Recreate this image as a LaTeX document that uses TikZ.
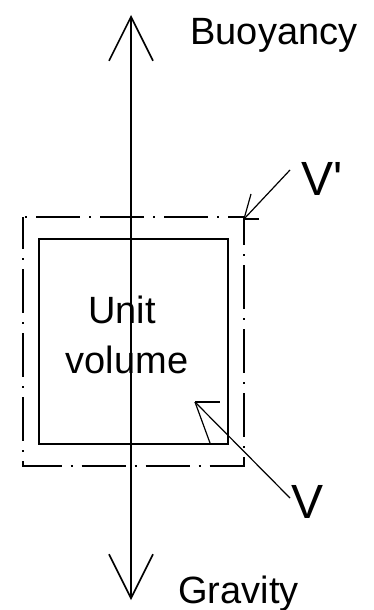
\documentclass[tikz,border=0pt]{standalone}
\usepackage{fontspec}
\setmainfont{Liberation Sans}
\usetikzlibrary{arrows.meta}
\begin{document}
\begin{tikzpicture}[x=0.5pt,y=-0.5pt,
  lbl/.style={inner sep=0pt, font=\fontsize{19}{25}\selectfont},
  biglbl/.style={inner sep=0pt, font=\fontsize{24}{28}\selectfont},
  solidbox/.style={line width=1pt},
  dashbox/.style={line width=1pt, dash pattern=on 22pt off 4.5pt on 1pt off 4.5pt, dash phase=6pt},
  axisline/.style={line width=0.8pt, {Straight Barb[length=22pt,width=22pt]}-{Straight Barb[length=22pt,width=22pt]}},
  pointer/.style={line width=0.6pt}]
\useasboundingbox (0,0) rectangle (374,610);
% boxes
\draw[dashbox] (22.5,217) rectangle (244,466);
\draw[solidbox] (39,239) rectangle (228,444);
% axis
\coordinate (top) at (131,15);
\coordinate (bot) at (131,600);
\draw[axisline] (bot) -- (top);
% labels
\node[lbl, anchor=base west] (buoy) at (190,45) {Buoyancy};
\node[lbl, anchor=base west] (grav) at (178,603) {Gravity};
\node[lbl, anchor=base] (unit) at (122,323) {Unit};
\node[lbl, anchor=base] (vol) at (127,373) {volume};
\node[biglbl, anchor=base west] (vp) at (301,195) {V\textquotesingle};
\node[biglbl, anchor=base west] (v) at (291,518) {V};
% V' pointer
\coordinate (vptail) at (290,170);
\coordinate (vptip) at (244,219);
\draw[pointer] (vptail) -- (vptip);
\draw[pointer] (vptip) -- ++(15,0);
\draw[pointer] (vptip) -- ++(7,-25);
% V pointer
\coordinate (vtail) at (290,498);
\coordinate (vtip) at (195,402);
\draw[pointer] (vtail) -- (vtip);
\draw[pointer] (vtip) -- ++(25,0);
\draw[pointer] (vtip) -- ++(15,41);
\end{tikzpicture}
\end{document}
